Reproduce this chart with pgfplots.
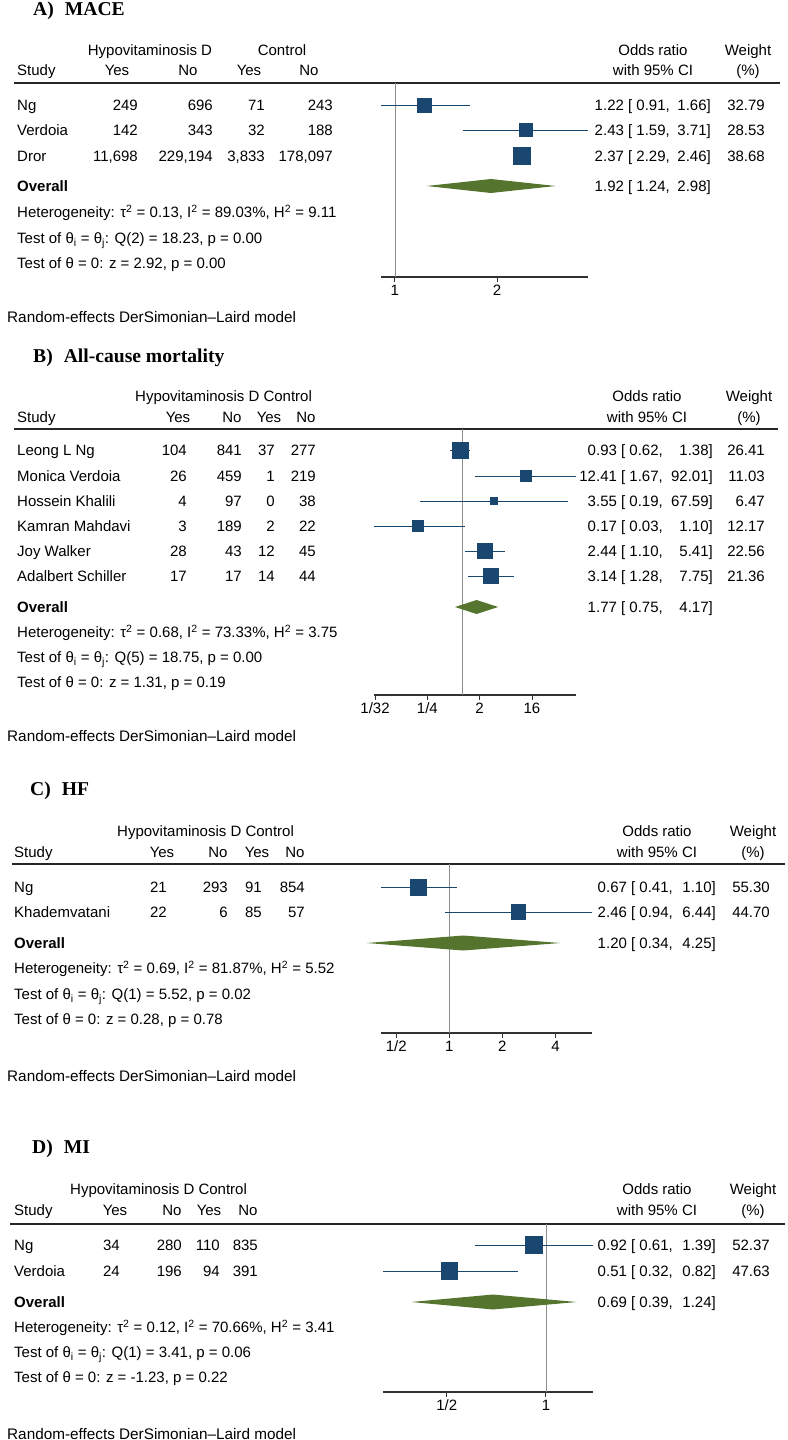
\documentclass[border=0pt]{standalone}
\usepackage{fontspec}
\setmainfont{Liberation Sans}
\newfontfamily\titlefont{Liberation Serif}
\usepackage{pgfplots}
\pgfplotsset{compat=1.18}
\definecolor{navy}{RGB}{26,71,111}
\definecolor{dgreen}{RGB}{85,117,47}
\definecolor{refgray}{RGB}{140,140,140}
\definecolor{axgray}{RGB}{50,50,50}

\newcommand{\TL}[3]{\node[anchor=base west,inner sep=0pt] at (#1pt,{-#2pt-5.4pt}) {#3};}
\newcommand{\TR}[3]{\node[anchor=base east,inner sep=0pt] at (#1pt,{-#2pt-5.4pt}) {#3};}
\newcommand{\TC}[3]{\node[anchor=base,inner sep=0pt] at (#1pt,{-#2pt-5.4pt}) {#3};}
\newcommand{\Title}[3]{\node[anchor=base west,inner sep=0pt,font=\titlefont\bfseries\fontsize{19.6}{22}\selectfont] at (#1pt,-#2pt) {#3};}
\newcommand{\Nums}[5]{\TR{\ca}{#1}{#2}\TR{\cb}{#1}{#3}\TR{\cc}{#1}{#4}\TR{\cd}{#1}{#5}}
\newcommand{\OR}[5]{\TR{\orm}{#1}{#2 [ #3,}\TR{\orr}{#1}{#4]}\TR{\wcol}{#1}{#5}}
\newcommand{\Stats}[9]{%
  \TL{#1}{#2}{\bfseries Overall}
  \TL{#1}{#3}{Heterogeneity: τ\textsuperscript{2} = #6, I\textsuperscript{2} = #7\%, H\textsuperscript{2} = #8}
  \TL{#1}{#4}{Test of θ\textsubscript{i} = θ\textsubscript{j}: #9}
  \TL{#1}{#5}{Test of θ = 0: \zline}}
\newcommand{\Note}[1]{\node[anchor=base west,inner sep=0pt,font=\fontsize{15.3}{18}\selectfont] at (7pt,-#1pt) {Random-effects DerSimonian–Laird model};}

\begin{document}
\begin{tikzpicture}[font=\fontsize{15}{18}\selectfont]
\path[use as bounding box] (0,0) rectangle (787pt,-1440pt);

%% ================= A) MACE =================
\Title{33}{15}{A)\hspace{11pt}MACE}
\TC{150}{50}{Hypovitaminosis D}\TC{282}{50}{Control}
\TL{17}{70}{Study}\TC{117}{70}{Yes}\TC{188}{70}{No}\TC{249}{70}{Yes}\TC{309}{70}{No}
\TC{653}{50}{Odds ratio}\TC{653}{70}{with 95\% CI}\TC{748}{50}{Weight}\TC{748}{70}{(\%)}
\draw[line width=1.3pt,black!85] (14pt,-83pt) -- (780pt,-83pt);
\def\ca{138}\def\cb{213}\def\cc{265}\def\cd{333}
\def\orm{670}\def\orr{711}\def\wcol{765}
\TL{17}{105}{Ng}\Nums{105}{249}{696}{71}{243}\OR{105}{1.22}{0.91}{1.66}{32.79}
\TL{17}{130}{Verdoia}\Nums{130}{142}{343}{32}{188}\OR{130}{2.43}{1.59}{3.71}{28.53}
\TL{17}{156}{Dror}\Nums{156}{11,698}{229,194}{3,833}{178,097}\OR{156}{2.37}{2.29}{2.46}{38.68}
\OR{186}{1.92}{1.24}{2.98}{}
\def\zline{z = 2.92, p = 0.00}
\Stats{17}{186}{212}{238}{263}{0.13}{89.03}{9.11}{Q(2) = 18.23, p = 0.00}
\Note{322}
\begin{axis}[anchor=south west, scale only axis, xmode=log, clip=false,
  axis x line*=bottom, axis y line=none,
  axis line style={-, line width=1.1pt, axgray},
  tick align=outside, major tick length=4.5pt, xminorticks=false,
  xtick style={line width=0.9pt, axgray},
  xticklabel style={font=\fontsize{15}{18}\selectfont, inner sep=0pt, anchor=base, yshift=-14pt},
  at={(381pt,-277pt)}, width=207pt, height=194pt,
  xmin=0.91, xmax=3.71, ymin=-277, ymax=-83,
  xtick={1,2}, xticklabels={1,2}]
\addplot[refgray, line width=0.7pt] coordinates {(1,-83) (1,-277)};
\addplot[navy, line width=0.9pt] coordinates {(0.91,-105) (1.66,-105)};
\addplot[navy, line width=0.9pt] coordinates {(1.59,-130) (3.71,-130)};
\addplot[navy, line width=0.9pt] coordinates {(2.29,-156) (2.46,-156)};
\addplot[scatter, only marks, mark=square*, scatter/use mapped color={draw=navy,fill=navy,line width=0pt},
  visualization depends on={\thisrow{s} \as \msz},
  scatter/@pre marker code/.append style={/tikz/mark size=\msz}]
  table {
x y s
1.22 -105 7
2.43 -130 6.5
2.37 -156 8.5
};
\addplot[fill=dgreen, draw=none] coordinates {(1.24,-186) (1.92,-179) (2.98,-186) (1.92,-193)} -- cycle;
\end{axis}

%% ================= B) All-cause mortality =================
\Title{33}{362}{B)\hspace{11pt}All-cause mortality}
\TL{135}{396}{Hypovitaminosis D Control}
\TL{17}{417}{Study}\TC{178}{417}{Yes}\TC{232}{417}{No}\TC{269}{417}{Yes}\TC{306}{417}{No}
\TC{647}{396}{Odds ratio}\TC{647}{417}{with 95\% CI}\TC{749}{396}{Weight}\TC{749}{417}{(\%)}
\draw[line width=1.3pt,black!85] (14pt,-429pt) -- (778pt,-429pt);
\def\ca{187}\def\cb{242}\def\cc{275}\def\cd{316}
\def\orm{663}\def\orr{713}\def\wcol{765}
\TL{17}{450}{Leong L Ng}\Nums{450}{104}{841}{37}{277}\OR{450}{0.93}{0.62}{1.38}{26.41}
\TL{17}{476}{Monica Verdoia}\Nums{476}{26}{459}{1}{219}\OR{476}{12.41}{1.67}{92.01}{11.03}
\TL{17}{501}{Hossein Khalili}\Nums{501}{4}{97}{0}{38}\OR{501}{3.55}{0.19}{67.59}{6.47}
\TL{17}{526}{Kamran Mahdavi}\Nums{526}{3}{189}{2}{22}\OR{526}{0.17}{0.03}{1.10}{12.17}
\TL{17}{551}{Joy Walker}\Nums{551}{28}{43}{12}{45}\OR{551}{2.44}{1.10}{5.41}{22.56}
\TL{17}{576}{Adalbert Schiller}\Nums{576}{17}{17}{14}{44}\OR{576}{3.14}{1.28}{7.75}{21.36}
\OR{607}{1.77}{0.75}{4.17}{}
\def\zline{z = 1.31, p = 0.19}
\Stats{17}{607}{632}{657}{682}{0.68}{73.33}{3.75}{Q(5) = 18.75, p = 0.00}
\Note{741}
\begin{axis}[anchor=south west, scale only axis, xmode=log, clip=false,
  axis x line*=bottom, axis y line=none,
  axis line style={-, line width=1.1pt, axgray},
  tick align=outside, major tick length=4.5pt, xminorticks=false,
  xtick style={line width=0.9pt, axgray},
  xticklabel style={font=\fontsize{15}{18}\selectfont, inner sep=0pt, anchor=base, yshift=-14pt},
  at={(374pt,-695pt)}, width=202pt, height=266pt,
  xmin=0.03, xmax=92.01, ymin=-695, ymax=-429,
  xtick={0.03125,0.25,2,16}, xticklabels={1/32,1/4,2,16}]
\addplot[refgray, line width=0.7pt] coordinates {(1,-429) (1,-695)};
\addplot[navy, line width=0.9pt] coordinates {(0.62,-450) (1.38,-450)};
\addplot[navy, line width=0.9pt] coordinates {(1.67,-476) (92.01,-476)};
\addplot[navy, line width=0.9pt] coordinates {(0.19,-501) (67.59,-501)};
\addplot[navy, line width=0.9pt] coordinates {(0.03,-526) (1.10,-526)};
\addplot[navy, line width=0.9pt] coordinates {(1.10,-551) (5.41,-551)};
\addplot[navy, line width=0.9pt] coordinates {(1.28,-576) (7.75,-576)};
\addplot[scatter, only marks, mark=square*, scatter/use mapped color={draw=navy,fill=navy,line width=0pt},
  visualization depends on={\thisrow{s} \as \msz},
  scatter/@pre marker code/.append style={/tikz/mark size=\msz}]
  table {
x y s
0.93 -450 8
12.41 -476 5.5
3.55 -501 3.75
0.17 -526 5.5
2.44 -551 7.5
3.14 -576 7.5
};
\addplot[fill=dgreen, draw=none] coordinates {(0.75,-607) (1.77,-600) (4.17,-607) (1.77,-614)} -- cycle;
\end{axis}

%% ================= C) HF =================
\Title{30}{795}{C)\hspace{11pt}HF}
\TL{117}{831}{Hypovitaminosis D Control}
\TL{14}{852}{Study}\TC{162}{852}{Yes}\TC{218}{852}{No}\TC{257}{852}{Yes}\TC{295}{852}{No}
\TC{657}{831}{Odds ratio}\TC{657}{852}{with 95\% CI}\TC{753}{831}{Weight}\TC{753}{852}{(\%)}
\draw[line width=1.3pt,black!85] (12pt,-864pt) -- (785pt,-864pt);
\def\ca{167}\def\cb{228}\def\cc{262}\def\cd{305}
\def\orm{673}\def\orr{716}\def\wcol{770}
\TL{14}{887}{Ng}\Nums{887}{21}{293}{91}{854}\OR{887}{0.67}{0.41}{1.10}{55.30}
\TL{14}{912}{Khademvatani}\Nums{912}{22}{6}{85}{57}\OR{912}{2.46}{0.94}{6.44}{44.70}
\OR{943}{1.20}{0.34}{4.25}{}
\def\zline{z = 0.28, p = 0.78}
\Stats{14}{943}{968}{994}{1019}{0.69}{81.87}{5.52}{Q(1) = 5.52, p = 0.02}
\Note{1081}
\begin{axis}[anchor=south west, scale only axis, xmode=log, clip=false,
  axis x line*=bottom, axis y line=none,
  axis line style={-, line width=1.1pt, axgray},
  tick align=outside, major tick length=4.5pt, xminorticks=false,
  xtick style={line width=0.9pt, axgray},
  xticklabel style={font=\fontsize{15}{18}\selectfont, inner sep=0pt, anchor=base, yshift=-14pt},
  at={(381pt,-1033pt)}, width=211pt, height=169pt,
  xmin=0.41, xmax=6.44, ymin=-1033, ymax=-864,
  xtick={0.5,1,2,4}, xticklabels={1/2,1,2,4}]
\addplot[refgray, line width=0.7pt] coordinates {(1,-864) (1,-1033)};
\addplot[navy, line width=0.9pt] coordinates {(0.41,-887) (1.10,-887)};
\addplot[navy, line width=0.9pt] coordinates {(0.94,-912) (6.44,-912)};
\addplot[scatter, only marks, mark=square*, scatter/use mapped color={draw=navy,fill=navy,line width=0pt},
  visualization depends on={\thisrow{s} \as \msz},
  scatter/@pre marker code/.append style={/tikz/mark size=\msz}]
  table {
x y s
0.67 -887 8
2.46 -912 7.25
};
\addplot[fill=dgreen, draw=none] coordinates {(0.34,-943) (1.20,-935.5) (4.25,-943) (1.20,-950.5)} -- cycle;
\end{axis}

%% ================= D) MI =================
\Title{32}{1153}{D)\hspace{11pt}MI}
\TL{70}{1189}{Hypovitaminosis D Control}
\TL{14}{1210}{Study}\TC{115}{1210}{Yes}\TC{172}{1210}{No}\TC{209}{1210}{Yes}\TC{248}{1210}{No}
\TC{657}{1189}{Odds ratio}\TC{657}{1210}{with 95\% CI}\TC{753}{1189}{Weight}\TC{753}{1210}{(\%)}
\draw[line width=1.3pt,black!85] (10pt,-1224pt) -- (785pt,-1224pt);
\def\ca{120}\def\cb{182}\def\cc{220}\def\cd{258}
\def\orm{673}\def\orr{716}\def\wcol{770}
\TL{14}{1245}{Ng}\Nums{1245}{34}{280}{110}{835}\OR{1245}{0.92}{0.61}{1.39}{52.37}
\TL{14}{1271}{Verdoia}\Nums{1271}{24}{196}{94}{391}\OR{1271}{0.51}{0.32}{0.82}{47.63}
\OR{1302}{0.69}{0.39}{1.24}{}
\def\zline{z = -1.23, p = 0.22}
\Stats{14}{1302}{1327}{1352}{1377}{0.12}{70.66}{3.41}{Q(1) = 3.41, p = 0.06}
\Note{1439}
\begin{axis}[anchor=south west, scale only axis, xmode=log, clip=false,
  axis x line*=bottom, axis y line=none,
  axis line style={-, line width=1.1pt, axgray},
  tick align=outside, major tick length=4.5pt, xminorticks=false,
  xtick style={line width=0.9pt, axgray},
  xticklabel style={font=\fontsize{15}{18}\selectfont, inner sep=0pt, anchor=base, yshift=-14pt},
  at={(383pt,-1392pt)}, width=210pt, height=168pt,
  xmin=0.32, xmax=1.39, ymin=-1392, ymax=-1224,
  xtick={0.5,1}, xticklabels={1/2,1}]
\addplot[refgray, line width=0.7pt] coordinates {(1,-1224) (1,-1392)};
\addplot[navy, line width=0.9pt] coordinates {(0.61,-1245) (1.39,-1245)};
\addplot[navy, line width=0.9pt] coordinates {(0.32,-1271) (0.82,-1271)};
\addplot[scatter, only marks, mark=square*, scatter/use mapped color={draw=navy,fill=navy,line width=0pt},
  visualization depends on={\thisrow{s} \as \msz},
  scatter/@pre marker code/.append style={/tikz/mark size=\msz}]
  table {
x y s
0.92 -1245 8.25
0.51 -1271 8.25
};
\addplot[fill=dgreen, draw=none] coordinates {(0.39,-1302) (0.69,-1294.5) (1.24,-1302) (0.69,-1309.5)} -- cycle;
\end{axis}
\end{tikzpicture}
\end{document}
